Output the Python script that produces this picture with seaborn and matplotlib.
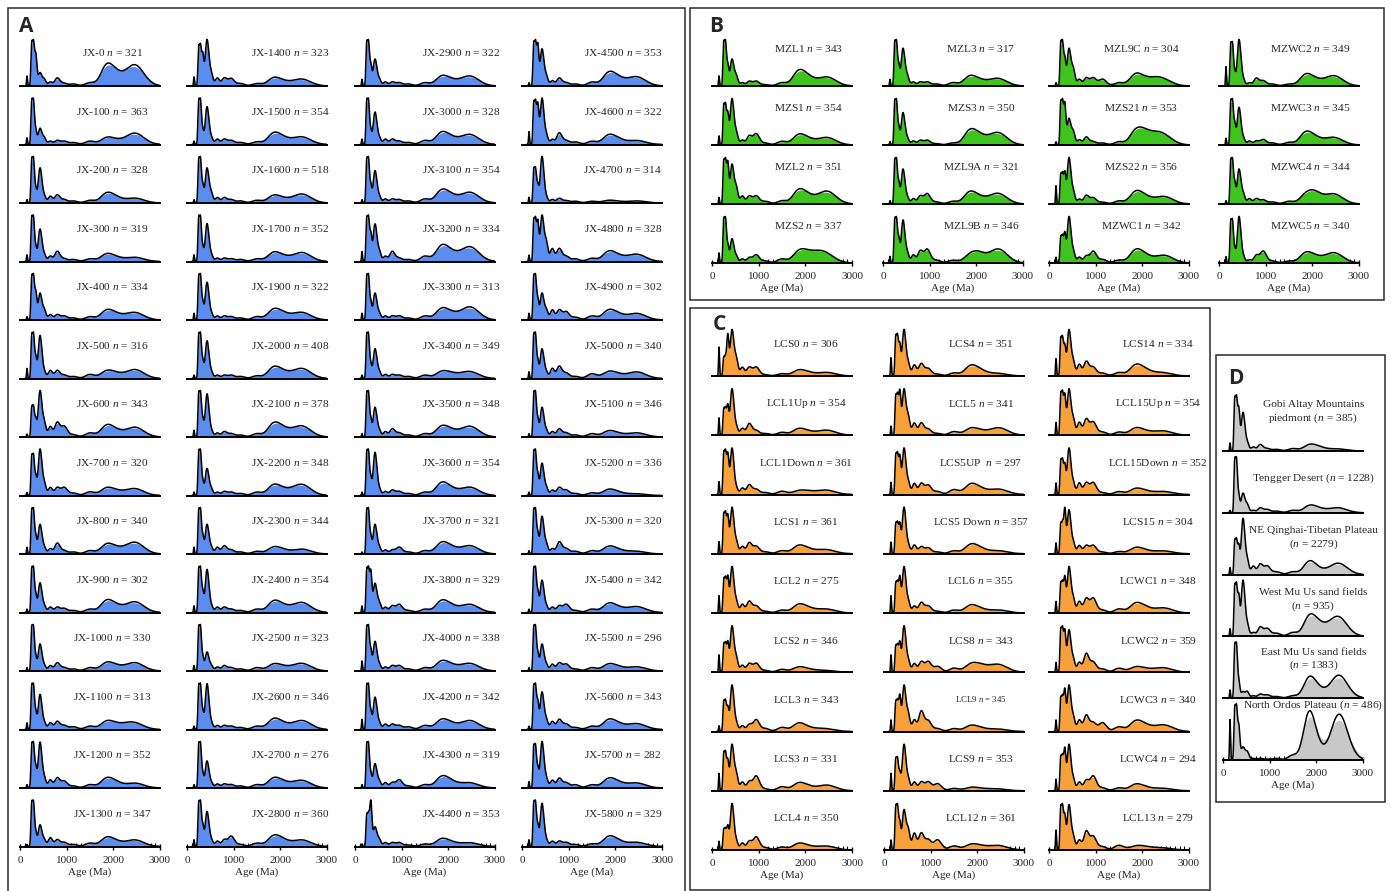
import matplotlib
matplotlib.use("Agg")
import matplotlib.pyplot as plt
import matplotlib.ticker as ticker
from matplotlib.patches import Rectangle
import seaborn as sns
import numpy as np

# grain-age components (Ma) shared by all spectra; each sample gives a weight per component
AGES = [150, 250, 290, 340, 410, 450, 520, 650, 800, 950, 1150, 1500, 1850, 2050, 2300, 2500]

# ---- panel A (blue), column by column
A_NAMES = ["JX-0", "JX-100", "JX-200", "JX-300", "JX-400", "JX-500", "JX-600", "JX-700",
           "JX-800", "JX-900", "JX-1000", "JX-1100", "JX-1200", "JX-1300",
           "JX-1400", "JX-1500", "JX-1600", "JX-1700", "JX-1900", "JX-2000", "JX-2100",
           "JX-2200", "JX-2300", "JX-2400", "JX-2500", "JX-2600", "JX-2700", "JX-2800",
           "JX-2900", "JX-3000", "JX-3100", "JX-3200", "JX-3300", "JX-3400", "JX-3500",
           "JX-3600", "JX-3700", "JX-3800", "JX-4000", "JX-4200", "JX-4300", "JX-4400",
           "JX-4500", "JX-4600", "JX-4700", "JX-4800", "JX-4900", "JX-5000", "JX-5100",
           "JX-5200", "JX-5300", "JX-5400", "JX-5500", "JX-5600", "JX-5700", "JX-5800"]
A_N = [321, 363, 328, 319, 334, 316, 343, 320, 340, 302, 330, 313, 352, 347,
       323, 354, 518, 352, 322, 408, 378, 348, 344, 354, 323, 346, 276, 360,
       322, 328, 354, 334, 313, 349, 348, 354, 321, 329, 338, 342, 319, 353,
       353, 322, 314, 328, 302, 340, 346, 336, 320, 342, 296, 343, 282, 329]
A_W = [
    [1.5, 6, 6, 4.5, 1.25, 1.25, 1, 0.6, 1.2, 0.4, 0.3, 0.5, 2.8, 1.5, 1.0, 2.6],
    [1, 6, 6, 2, 1.5, 1.5, 1, 0.5, 0.6, 0.5, 0.3, 0.5, 0.9, 0.5, 0.5, 1.4],
    [0.5, 6, 6, 2, 3.25, 3.25, 1, 1, 1.2, 0.5, 0.3, 0.4, 1.3, 0.7, 0.2, 0.6],
    [1, 6, 6, 2, 3, 3, 1, 0.8, 1.5, 0.4, 0.3, 0.4, 1.0, 0.5, 0.2, 0.5],
    [0.5, 6, 6, 4, 2.5, 2.5, 1.5, 0.8, 0.8, 0.6, 0.3, 0.5, 1.3, 0.7, 0.4, 0.9],
    [1.5, 6, 6, 3, 4, 4, 1, 1.2, 1.2, 0.5, 0.3, 0.6, 1.0, 0.6, 0.4, 1.1],
    [0.5, 4.8, 4.8, 3, 5, 5, 2.5, 1.8, 2.5, 1.8, 0.4, 0.7, 1.8, 0.9, 0.5, 1.4],
    [0.5, 6, 6, 3, 4.75, 4.75, 2, 1.3, 1.3, 1.3, 0.4, 0.6, 1.1, 0.6, 0.4, 0.9],
    [1, 6, 6, 2.5, 2.75, 2.75, 1, 0.8, 1.6, 0.5, 0.3, 0.5, 1.3, 0.7, 0.6, 1.4],
    [0.5, 6, 6, 2.5, 2.75, 2.75, 1, 0.8, 0.8, 0.6, 0.3, 0.5, 1.6, 0.8, 0.5, 1.3],
    [0.5, 6, 6, 2, 2.5, 2.5, 0.8, 0.8, 1.2, 0.5, 0.3, 0.5, 1.1, 0.6, 0.4, 1.0],
    [1, 6, 6, 2.5, 3.25, 3.25, 1, 1, 1.2, 0.6, 0.4, 0.5, 1.1, 0.6, 0.6, 0.7],
    [0.5, 6, 6, 3, 4.25, 4.25, 1.5, 1.2, 1.5, 1, 0.3, 0.5, 1.3, 0.7, 0.2, 0.6],
    [0.3, 6, 6, 2, 2, 2, 1, 1.3, 1, 0.6, 0.3, 0.5, 1.2, 0.6, 0.3, 0.8],
    [1.5, 6, 6, 5, 4.75, 4.75, 2, 1.3, 1.3, 1.2, 0.4, 0.4, 1.2, 0.6, 0.4, 0.9],
    [0.5, 6, 6, 2, 3.5, 3.5, 1, 0.8, 0.8, 0.6, 0.3, 0.4, 1.5, 0.8, 0.4, 0.9],
    [0.5, 6, 6, 2.5, 3.25, 3.25, 1.5, 0.8, 0.8, 0.5, 0.3, 0.4, 1.0, 0.5, 0.4, 1.1],
    [1, 6, 6, 2, 3.5, 3.5, 1, 0.5, 0.5, 0.4, 0.3, 0.4, 1.2, 0.6, 0.4, 1.1],
    [1, 6, 6, 2.5, 3.5, 3.5, 1, 0.6, 0.6, 0.5, 0.3, 0.5, 1.4, 0.8, 0.4, 0.9],
    [0.5, 6, 6, 2.5, 3.5, 3.5, 1, 0.5, 0.5, 0.5, 0.3, 0.4, 1.5, 0.8, 0.5, 1.2],
    [1, 6, 6, 2.5, 4, 4, 1, 0.6, 0.8, 0.5, 0.3, 0.5, 1.8, 1.0, 0.6, 1.3],
    [0.5, 6, 6, 2, 2.5, 2.5, 1, 0.5, 0.6, 0.5, 0.3, 0.5, 1.4, 0.7, 0.6, 1.3],
    [1, 6, 6, 2.5, 2.75, 2.75, 1, 1, 1.2, 0.6, 0.3, 0.4, 0.9, 0.5, 0.2, 0.6],
    [1, 6, 6, 3, 4, 4, 1, 0.8, 0.8, 0.5, 0.3, 0.5, 1.5, 0.8, 0.5, 1.2],
    [0.8, 6, 6, 2, 1.75, 1.75, 0.8, 0.6, 0.8, 0.5, 0.3, 0.5, 0.9, 0.5, 0.4, 0.9],
    [0.5, 6, 6, 2.5, 4.25, 4.25, 1, 0.6, 0.6, 0.5, 0.3, 0.5, 1.4, 0.7, 0.4, 1.1],
    [0.5, 6, 6, 2, 2.5, 2.5, 0.8, 0.6, 0.6, 0.5, 0.3, 0.5, 1.3, 0.7, 0.4, 0.9],
    [1, 6, 6, 3, 3.25, 3.25, 1, 0.8, 1, 1.5, 0.3, 0.5, 1.4, 0.8, 0.3, 0.8],
    [1, 6, 6, 3, 2.5, 2.5, 1, 0.6, 0.6, 0.5, 0.3, 0.5, 1.3, 0.7, 0.5, 1.2],
    [0.8, 6, 6, 2, 3, 3, 1, 0.8, 0.8, 0.5, 0.3, 0.6, 1.6, 0.8, 0.5, 1.2],
    [0.5, 6, 6, 2.5, 3, 3, 1, 0.6, 0.6, 0.5, 0.3, 0.6, 1.7, 0.9, 0.5, 1.3],
    [1.5, 6, 6, 4, 3.5, 3.5, 1.5, 0.8, 1.5, 0.5, 0.3, 0.8, 2.1, 1.1, 0.7, 1.8],
    [1, 6, 6, 2.5, 2.5, 2.5, 1, 0.6, 0.6, 0.6, 0.3, 0.6, 1.5, 0.8, 0.6, 1.6],
    [0.5, 6, 6, 2, 2.75, 2.75, 1, 0.6, 0.6, 0.5, 0.3, 0.5, 0.9, 0.6, 0.4, 0.8],
    [0.5, 6, 6, 2.5, 2.75, 2.75, 1, 0.8, 1.2, 0.6, 0.3, 0.5, 1.4, 0.8, 0.5, 1.3],
    [0.5, 6, 6, 2.5, 4, 4, 1, 0.6, 0.8, 0.6, 0.3, 0.5, 1.7, 0.8, 0.4, 1.0],
    [0.3, 6, 6, 2.5, 2.75, 2.75, 1, 0.6, 0.6, 1, 0.3, 0.5, 1.5, 0.8, 0.4, 1.0],
    [1, 6, 6, 6, 2.75, 2.75, 1.5, 0.8, 1, 1.2, 0.3, 0.5, 1.6, 0.8, 0.4, 1.0],
    [1.5, 6, 6, 3, 2.75, 2.75, 1, 0.6, 0.8, 0.8, 0.3, 0.5, 1.3, 0.7, 0.4, 0.9],
    [1.5, 6, 6, 2.5, 3, 3, 1, 0.8, 0.8, 0.6, 0.4, 0.6, 1.3, 0.7, 0.4, 1.1],
    [0.5, 6, 6, 2, 2.25, 2.25, 1, 0.8, 0.8, 1.2, 0.3, 0.5, 1.5, 0.8, 0.3, 0.6],
    [0.5, 6, 6, 9, 2.5, 2.5, 1.5, 0.8, 0.8, 0.8, 0.3, 0.5, 1.4, 0.7, 0.3, 0.6],
    [0.5, 6, 6, 6, 3.5, 3.5, 1.5, 0.8, 1.2, 0.5, 0.3, 0.6, 1.8, 1.0, 0.5, 1.1],
    [2, 6, 6, 6, 4.5, 4.5, 1.5, 0.8, 1.8, 0.6, 0.4, 0.5, 1.3, 0.7, 0.2, 0.5],
    [1, 5.4, 5.4, 3, 5, 5, 1, 0.6, 0.8, 0.4, 0.3, 0.3, 0.4, 0.2, 0.1, 0.3],
    [1, 6, 6, 6, 4.5, 4.5, 3, 2, 2, 0.8, 0.4, 0.5, 1.4, 0.7, 0.4, 0.9],
    [1, 6, 6, 3, 2.5, 2.5, 1.5, 1.5, 1.5, 1.2, 0.4, 0.6, 1.3, 0.7, 0.3, 0.8],
    [1, 6, 6, 2.5, 2.75, 2.75, 1, 1.5, 1.8, 0.8, 0.3, 0.7, 0.9, 0.5, 0.3, 0.8],
    [0.5, 6, 6, 2.5, 2.75, 2.75, 1, 0.8, 1.2, 0.6, 0.3, 0.5, 0.8, 0.4, 0.2, 0.5],
    [0.5, 6, 6, 3, 3, 3, 1.2, 0.8, 1.2, 0.8, 0.3, 0.4, 0.8, 0.4, 0.1, 0.2],
    [0.5, 6, 6, 3, 3.5, 3.5, 1.5, 0.8, 1.8, 0.8, 0.4, 0.5, 1.0, 0.5, 0.2, 0.3],
    [0.5, 6, 6, 3, 3, 3, 1, 0.8, 1, 1.2, 0.3, 0.5, 1.2, 0.6, 0.3, 0.7],
    [0.5, 6, 6, 2.5, 2.5, 2.5, 1, 1, 1.2, 1, 0.3, 0.5, 0.9, 0.5, 0.2, 0.5],
    [0.5, 6, 6, 4, 3.5, 3.5, 1.5, 1.2, 1.5, 0.8, 0.3, 0.5, 1.3, 0.7, 0.3, 0.7],
    [1, 6, 6, 3, 4.5, 4.5, 1.5, 1.2, 1.5, 0.8, 0.5, 0.5, 1.3, 0.7, 0.3, 0.6],
    [1, 6, 6, 3, 4, 4, 1, 0.8, 0.8, 0.6, 0.3, 0.4, 1.3, 0.7, 0.2, 0.5],
]

# ---- panel B (green)
B_NAMES = ["MZL1", "MZS1", "MZL2", "MZS2", "MZL3", "MZS3", "MZL9A", "MZL9B",
           "MZL9C", "MZS21", "MZS22", "MZWC1", "MZWC2", "MZWC3", "MZWC4", "MZWC5"]
B_N = [343, 354, 351, 337, 317, 350, 321, 346, 304, 353, 356, 342, 349, 345, 344, 340]
B_W = [
    [1.5, 6, 6, 3, 2.5, 2.5, 1.5, 0.5, 0.7, 0.7, 0.2, 0.5, 2.0, 1.1, 0.4, 1.1],
    [1.5, 6, 6, 5, 4.75, 4.75, 2, 0.8, 1.5, 1.8, 0.3, 0.6, 1.5, 0.8, 0.4, 1.0],
    [1, 6, 6, 6, 3.75, 3.75, 2.5, 1.2, 1.2, 1.2, 0.4, 0.5, 1.9, 1.0, 0.6, 1.6],
    [1.5, 6, 6, 2.5, 2.25, 2.25, 1, 0.6, 0.8, 1.2, 0.3, 0.6, 1.5, 1.2, 1.2, 0.8],
    [1, 6, 6, 3, 3.5, 3.5, 1.5, 0.6, 0.6, 0.6, 0.3, 0.5, 1.3, 0.7, 0.4, 0.9],
    [0.5, 6, 6, 2.5, 3, 3, 1, 0.6, 0.7, 0.7, 0.2, 0.3, 1.9, 1.2, 0.6, 1.5],
    [0.5, 6, 6, 3, 3.25, 3.25, 1, 0.8, 1.2, 1.5, 0.3, 0.4, 1.6, 0.8, 0.5, 1.3],
    [1, 6, 6, 3.5, 4, 4, 1.5, 1.2, 1.8, 2, 0.4, 0.4, 1.0, 1.3, 0.5, 1.8],
    [0.5, 6, 6, 4, 3.5, 3.5, 2.5, 1, 1.2, 1.2, 1, 0.5, 1.6, 0.8, 0.9, 0.6],
    [0.5, 6, 6, 6, 2.5, 2.5, 2, 0.8, 1.2, 0.5, 0.3, 0.5, 1.9, 1.6, 1.2, 1.0],
    [3, 4.5, 4.5, 5, 4.75, 4.75, 2, 0.8, 1.4, 1, 0.3, 0.5, 1.8, 1.0, 0.4, 1.0],
    [1, 4.2, 4.2, 5, 5, 5, 2, 1, 1.2, 2, 0.6, 0.5, 2.0, 1.1, 0.4, 1.1],
    [3, 6, 6, 2, 4.5, 4.5, 1, 0.5, 1.2, 0.8, 0.3, 0.3, 1.6, 0.8, 0.5, 1.3],
    [1, 6, 6, 3, 3.5, 3.5, 1, 0.6, 0.6, 0.8, 0.3, 0.4, 1.7, 0.9, 0.4, 0.9],
    [0.5, 6, 6, 3, 3.25, 3.25, 1.5, 0.8, 0.8, 0.6, 0.3, 0.4, 1.2, 1.5, 0.5, 1.2],
    [1, 6, 6, 2, 4.5, 4.5, 1, 0.5, 1.2, 1.8, 0.3, 0.3, 1.4, 0.8, 0.5, 1.3],
]

# ---- panel C (orange)
C_NAMES = ["LCS0", "LCL1Up", "LCL1Down", "LCS1", "LCL2", "LCS2", "LCL3", "LCS3", "LCL4",
           "LCS4", "LCL5", "LCS5UP ", "LCS5 Down", "LCL6", "LCS8", "LCL9", "LCS9", "LCL12",
           "LCS14", "LCL15Up", "LCL15Down", "LCS15", "LCWC1", "LCWC2", "LCWC3", "LCWC4", "LCL13"]
C_N = [306, 354, 361, 361, 275, 346, 343, 331, 350,
       351, 341, 297, 357, 355, 343, 345, 353, 361,
       334, 354, 352, 304, 348, 359, 340, 294, 279]
C_W = [
    [5, 3, 3, 7, 5, 5, 3, 1.5, 1.5, 1.5, 0.2, 0.4, 0.9, 0.5, 0.2, 0.5],
    [3, 4.2, 4.2, 5, 5, 5, 1.5, 1.2, 2, 0.8, 0.3, 0.5, 1.0, 0.5, 0.3, 0.7],
    [2, 6, 6, 6, 4.5, 4.5, 1, 1, 1.5, 0.8, 0.3, 0.5, 0.5, 0.4, 0.3, 0.5],
    [2, 6, 6, 6, 4.75, 4.75, 2, 1.2, 1.8, 1.2, 0.3, 0.5, 1.2, 0.6, 0.3, 0.5],
    [3, 5.4, 5.4, 6, 5, 5, 2, 1.5, 2, 1.2, 0.3, 0.5, 1.3, 0.7, 0.3, 0.5],
    [3, 4.5, 4.5, 5, 5, 5, 2.5, 1.2, 1.5, 1.5, 0.3, 0.5, 0.8, 0.4, 0.2, 0.2],
    [1, 4.8, 4.8, 4, 5, 5, 1.5, 1, 1.2, 2, 0.5, 0.7, 1.3, 0.5, 0.3, 0.3],
    [3, 6, 6, 5, 5, 5, 3, 1.5, 1.6, 2.5, 0.3, 0.7, 1.2, 0.6, 0.3, 0.8],
    [1.5, 3.3, 3.3, 4, 5, 5, 1.5, 1.2, 1.5, 2.2, 0.4, 0.5, 1.0, 0.5, 0.3, 0.5],
    [3, 6, 6, 5, 4.75, 4.75, 2, 1.8, 2, 1.2, 0.3, 0.5, 1.5, 0.8, 0.2, 0.3],
    [1.5, 6, 6, 7, 4.75, 4.75, 3, 2, 2, 1, 0.3, 0.6, 1.0, 0.6, 0.4, 1.0],
    [2, 6, 6, 6, 4.75, 4.75, 2, 1.8, 1.8, 1.5, 0.5, 0.8, 1.5, 0.8, 0.3, 0.7],
    [2, 4.8, 4.8, 5, 5, 5, 1.5, 1.5, 1.2, 1, 0.3, 0.5, 1.4, 0.8, 0.2, 0.4],
    [3, 4.8, 4.8, 6, 5, 5, 2, 1.2, 1.8, 1.2, 0.3, 0.5, 1.2, 0.6, 0.2, 0.4],
    [3, 4.2, 4.2, 5, 5, 5, 2, 1.5, 1.8, 1.8, 1, 0.7, 1.2, 1.0, 0.6, 1.0],
    [2, 4.8, 4.8, 6, 5, 5, 3, 2, 3.5, 1.8, 0.5, 0.5, 0.9, 0.5, 0.2, 0.3],
    [3, 5.1, 5.1, 3, 5, 5, 2, 1.5, 1.5, 1.5, 1.2, 0.4, 0.5, 0.3, 0.2, 0.2],
    [1.5, 6, 6, 4, 3.75, 3.75, 3, 2.5, 2.5, 1.5, 1.5, 0.6, 0.7, 0.5, 0.3, 0.5],
    [3, 6, 6, 5, 5, 5, 2.5, 2, 2.5, 1.5, 0.5, 0.6, 1.7, 0.9, 0.3, 0.4],
    [2, 6, 6, 6, 4.5, 4.5, 2.5, 2, 2.5, 2, 0.5, 0.5, 1.0, 0.5, 0.3, 0.5],
    [2, 5.4, 5.4, 5, 5, 5, 2, 2, 2, 2, 0.3, 0.5, 0.9, 0.5, 0.2, 0.4],
    [2, 5.1, 5.1, 8, 5, 5, 2, 1.5, 1.5, 1.5, 0.3, 0.4, 1.0, 0.5, 0.2, 0.4],
    [2, 4.8, 4.8, 6, 5, 5, 2.5, 2, 2.5, 2.5, 0.5, 0.7, 1.5, 0.8, 0.3, 0.7],
    [1.5, 6, 6, 6, 4, 4, 2, 1.5, 2.8, 1.5, 0.5, 0.6, 0.7, 0.4, 0.3, 0.5],
    [2, 5.4, 5.4, 7, 5, 5, 2.5, 2, 2.8, 1.5, 1.5, 0.8, 1.6, 0.9, 0.4, 0.9],
    [2, 5.4, 5.4, 7, 5, 5, 2, 1.5, 1.8, 2.5, 0.5, 0.5, 1.0, 0.5, 0.2, 0.3],
    [3, 6, 6, 5, 4.25, 4.25, 2, 1.5, 2.8, 2, 0.5, 0.7, 0.5, 0.4, 0.2, 0.2],
]

# ---- panel D (grey), compiled source areas
D_LABELS = ["Gobi Altay Mountains\npiedmont ($n$ = {n})", "Tengger Desert ($n$ = {n})",
            "NE Qinghai-Tibetan Plateau\n($n$ = {n})", "West Mu Us sand fields\n($n$ = {n})",
            "East Mu Us sand fields\n($n$ = {n})", "North Ordos Plateau ($n$ = {n})"]
D_N = [385, 1228, 2279, 935, 1383, 486]
D_W = [
    [1, 6, 6, 5, 3, 3, 1, 0.5, 0.8, 0.3, 0.2, 0.3, 0.7, 0.4, 0.1, 0.2],
    [0.3, 6, 6, 2, 1.5, 1.5, 1, 0.3, 0.6, 0.4, 0.2, 0.3, 0.8, 0.4, 0.2, 0.5],
    [1, 4.5, 4.5, 4, 5, 5, 2, 1.2, 1.5, 1.2, 0.4, 0.4, 1.8, 0.5, 0.4, 1.4],
    [1, 6, 6, 5, 4.5, 4.5, 1.5, 0.5, 1.2, 1, 0.4, 0.5, 2.4, 1.2, 0.8, 2.1],
    [1, 6, 6, 2, 0.5, 0.5, 0.8, 0.3, 0.5, 0.4, 0.2, 0.3, 2.4, 0.8, 0.4, 2.6],
    [5, 6, 6, 4, 1, 1, 1, 0.2, 0.2, 0.1, 0.2, 0.6, 5.8, 0.8, 0.5, 5.4],
]

BLUE, GREEN, ORANGE, GREY = "#5b8def", "#3ec41d", "#f8a03a", "#c8c8c8"

sns.set_style("white")
plt.rcParams['font.family'] = 'Liberation Serif'
plt.rcParams['mathtext.fontset'] = 'custom'
plt.rcParams['mathtext.rm'] = 'Liberation Serif'
plt.rcParams['mathtext.it'] = 'Liberation Serif:italic'

W, H = 1391, 891
fig = plt.figure(figsize=(W / 100, H / 100), dpi=100)


def spectrum(left, base, weights, color, height=48):
    ax = fig.add_axes([left / W, (H - base) / H, 140 / W, height / H])
    w = np.asarray(weights, float)
    ages = np.asarray(AGES, float)
    # fixed bandwidth in log-age space (gaussian_kde scales bw_method by the data spread)
    sd = np.sqrt(np.cov(np.log10(ages), aweights=w))
    sns.kdeplot(x=ages, weights=w, log_scale=True, bw_method=0.035 / sd, fill=True,
                color=color, alpha=1, linewidth=0, gridsize=600, cut=5, ax=ax)
    sns.kdeplot(x=ages, weights=w, log_scale=True, bw_method=0.030 / sd,
                color="black", linewidth=1.1, gridsize=600, cut=5, ax=ax)
    ax.set_xscale("linear")
    top = ax.lines[-1].get_ydata().max()
    ax.set_xlim(0, 3000)
    ax.set_ylim(0, top * 1.03)
    for s in ["left", "top", "right"]:
        ax.spines[s].set_visible(False)
    ax.spines["bottom"].set_linewidth(1.4)
    ax.spines["bottom"].set_color("black")
    ax.set_yticks([])
    ax.set_ylabel("")
    ax.set_xlabel("")
    ax.set_xticks([])
    ax.patch.set_alpha(0)
    return ax


def bottom_axis(ax):
    ax.xaxis.set_major_locator(ticker.MultipleLocator(1000))
    ax.xaxis.set_minor_locator(ticker.MultipleLocator(100))
    ax.tick_params(axis="x", which="major", direction="inout", length=5, width=1,
                   labelsize=8, pad=4, bottom=True, color="black")
    ax.tick_params(axis="x", which="minor", direction="in", length=3, width=0.8,
                   bottom=True, color="black")
    ax.set_xlabel("Age (Ma)", fontsize=8, labelpad=2)


def panel(names, counts, weights, color, cols, base0, step, nrows, fx, fy, height=48):
    for k, (name, n, w) in enumerate(zip(names, counts, weights)):
        c, r = divmod(k, nrows)
        ax = spectrum(cols[c], base0 + r * step, w, color, height)
        size = 6.3 if name == "LCL9" else 8.2
        ax.text(fx[c], fy, f"{name} $n$ = {n}", transform=ax.transAxes,
                ha="center", va="center", fontsize=size)
        if r == nrows - 1:
            bottom_axis(ax)


panel(A_NAMES, A_N, A_W, BLUE, [20, 187, 355, 522], 86, 58.5, 14,
      [0.66, 0.74, 0.76, 0.72], 0.69)
panel(B_NAMES, B_N, B_W, GREEN, [712, 883, 1049, 1219], 86, 59, 4,
      [0.69, 0.70, 0.66, 0.65], 0.79)
panel(C_NAMES, C_N, C_W, ORANGE, [712, 884, 1049], 376, 59.25, 9,
      [0.67, 0.69, 0.78], 0.67)

d_fy = [0.66, 0.6, 0.62, 0.62, 0.66, 0.95]
for r, (lab, n, w) in enumerate(zip(D_LABELS, D_N, D_W)):
    ax = spectrum(1223, 451 + r * 61.8, w, GREY, height=58)
    ax.text(0.645, d_fy[r], lab.format(n=n), transform=ax.transAxes, ha="center",
            va="center", fontsize=8.2, linespacing=1.25)
    if r == len(D_LABELS) - 1:
        bottom_axis(ax)

# panel frames and letters
for (x0, y0, x1, y1) in [(8, 8, 685, 896), (690, 8, 1384, 300), (690, 308, 1210, 890),
                         (1216, 355, 1385, 802)]:
    fig.add_artist(Rectangle((x0 / W, 1 - y1 / H), (x1 - x0) / W, (y1 - y0) / H,
                             transform=fig.transFigure, fill=False, lw=1.1,
                             edgecolor="#2b2b2b"))
for letter, x, y in [("A", 26, 26), ("B", 716, 27), ("C", 719, 325), ("D", 1236, 379)]:
    fig.text(x / W, 1 - y / H, letter, ha="center", va="center", fontsize=15,
             fontweight="bold", family="Open Sans")

fig.savefig("out.png", dpi=100)
